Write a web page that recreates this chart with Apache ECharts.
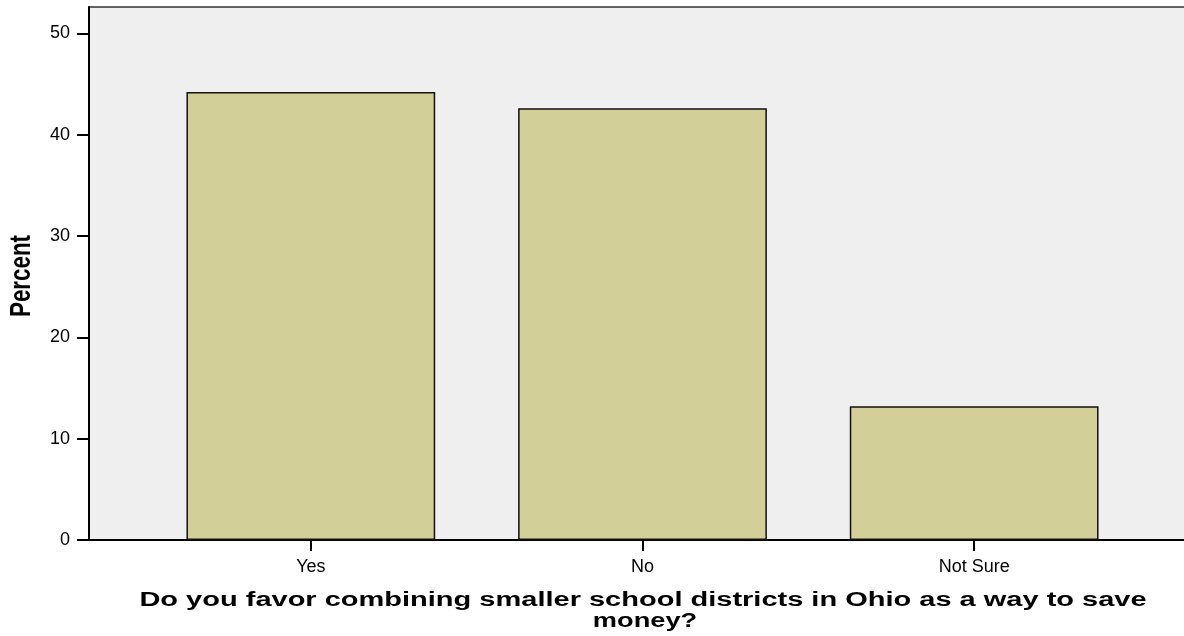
<!DOCTYPE html>
<html>
<head>
<meta charset="utf-8">
<script src="https://cdn.jsdelivr.net/npm/echarts@6/dist/echarts.min.js"></script>
<style>html,body{margin:0;padding:0;background:#fff}#c{width:1184px;height:636px}</style>
</head>
<body>
<div id="c"></div>
<script>
const categories = ['Yes', 'No', 'Not Sure'];
const percentValues = [44.2, 42.6, 13.2];
const yTicks = [0, 10, 20, 30, 40, 50];
const xTitleLine1 = 'Do you favor combining smaller school districts in Ohio as a way to save';
const xTitleLine2 = 'money?';
const yTitle = 'Percent';

const chart = echarts.init(document.getElementById('c'), null, {renderer: 'canvas'});
const Y_MAX = 52.6;
const font = 'Liberation Sans, Arial, sans-serif';
chart.setOption({
  animation: false,
  grid: [
    {left: 89, top: 7, right: -3, bottom: 96, show: true, backgroundColor: '#efefef', borderColor: '#333', borderWidth: 1.5, outerBoundsMode: 'none', containLabel: false},
    {left: 145, top: 7, right: 44, bottom: 96, outerBoundsMode: 'none', containLabel: false}
  ],
  xAxis: [
    {gridIndex: 0, type: 'value', min: 0, max: 1, show: true,
     axisLine: {show: true, lineStyle: {color: '#000', width: 2}},
     axisTick: {show: false}, axisLabel: {show: false}, splitLine: {show: false}},
    {gridIndex: 1, type: 'category', data: categories,
     axisLine: {show: false},
     axisTick: {show: true, alignWithLabel: true, length: 11, lineStyle: {color: '#000', width: 2}},
     axisLabel: {color: '#000', fontSize: 18, fontFamily: font, margin: 18}}
  ],
  yAxis: [
    {gridIndex: 0, type: 'value', min: 0, max: Y_MAX,
     axisLine: {show: true, lineStyle: {color: '#000', width: 2}},
     axisTick: {show: true, length: 12, customValues: yTicks, lineStyle: {color: '#000', width: 2}},
     axisLabel: {color: '#000', fontSize: 18, fontFamily: font, margin: 19, customValues: yTicks},
     splitLine: {show: false}},
    {gridIndex: 1, type: 'value', min: 0, max: Y_MAX, show: false}
  ],
  graphic: [
    {type: 'text', x: 643, y: 600, scaleX: 1.45, scaleY: 1,
     style: {text: xTitleLine1, fill: '#000', font: 'bold 20px Liberation Sans, Arial, sans-serif', textAlign: 'center', textVerticalAlign: 'middle'}},
    {type: 'text', x: 645, y: 621, scaleX: 1.36, scaleY: 1,
     style: {text: xTitleLine2, fill: '#000', font: 'bold 20px Liberation Sans, Arial, sans-serif', textAlign: 'center', textVerticalAlign: 'middle'}},
    {type: 'text', x: 22, y: 276, rotation: Math.PI / 2, scaleX: 0.77, scaleY: 1,
     style: {text: yTitle, fill: '#000', font: 'bold 29px Liberation Sans, Arial, sans-serif', textAlign: 'center', textVerticalAlign: 'middle'}}
  ],
  series: [{
    type: 'bar', xAxisIndex: 1, yAxisIndex: 1,
    data: percentValues,
    barWidth: '75%',
    itemStyle: {color: '#d2cf99', borderColor: '#111', borderWidth: 1.5}
  }]
});
</script>
</body>
</html>
